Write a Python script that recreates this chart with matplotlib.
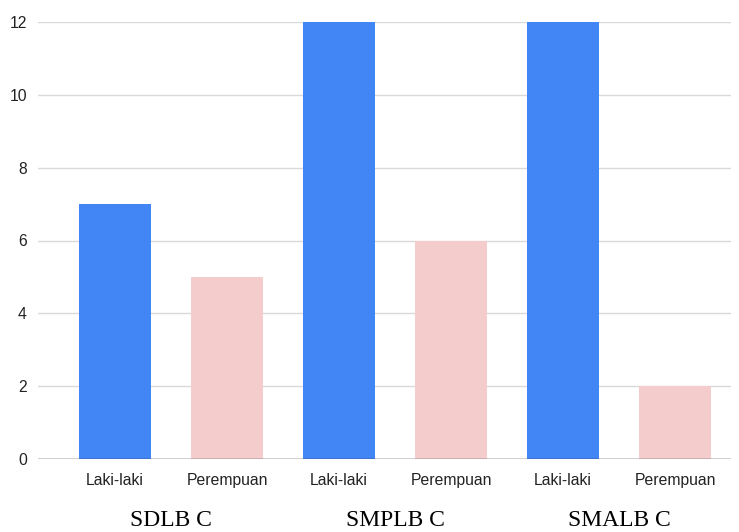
import matplotlib.pyplot as plt

bar_labels = ["Laki-laki", "Perempuan", "Laki-laki", "Perempuan", "Laki-laki", "Perempuan"]
values = [7, 5, 12, 6, 12, 2]
colors = ["#4285F4", "#F4CCCC", "#4285F4", "#F4CCCC", "#4285F4", "#F4CCCC"]
groups = ["SDLB C", "SMPLB C", "SMALB C"]
yticks = [0, 2, 4, 6, 8, 10, 12]

fig = plt.figure(figsize=(7.39, 5.32), dpi=100)
ax = fig.add_axes([38/739, 1-459/532, (731-38)/739, (459-22)/532])

x = list(range(len(values)))
ax.bar(x, values, width=0.643, color=colors, zorder=3)

ax.set_xlim(-0.6875, 5.5)
ax.set_ylim(0, 12)
ax.set_yticks(yticks)
ax.set_yticklabels([str(v) for v in yticks])
ax.grid(axis="y", color="#d9d9d9", linewidth=1.0, zorder=0)
ax.axhline(0, color="#333333", linewidth=1.0, zorder=4)
for s in ax.spines.values():
    s.set_visible(False)
ax.tick_params(axis="both", length=0, labelsize=11.3, colors="#222222", labelfontfamily="Liberation Sans")
ax.tick_params(axis="y", pad=8)
ax.tick_params(axis="x", pad=10)
ax.set_xticks(x)
ax.set_xticklabels(bar_labels)

for i, g in enumerate(groups):
    cx = 2 * i + 0.5
    ax.text(cx, -1.70, g, ha="center", va="center", fontsize=17,
            family="Liberation Serif", color="#000000",
            transform=ax.transData, clip_on=False)

fig.savefig("out.png", dpi=100)
